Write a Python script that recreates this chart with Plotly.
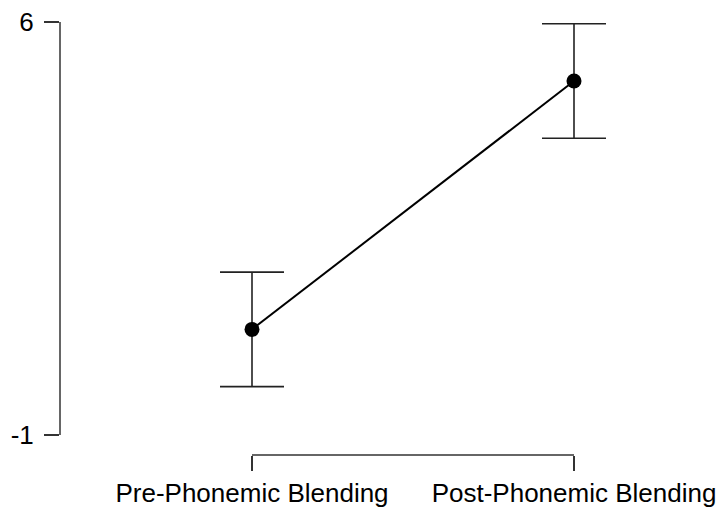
import plotly.graph_objects as go

categories = ["Pre-Phonemic Blending", "Post-Phonemic Blending"]
means = [0.79, 5.0]
errors = [0.97, 0.97]
y_ticks = [-1, 6]
y_ticklabels = ["-1", "6"]

W, H = 721, 509
L, T = 60, 22
plot_right, plot_bottom = 716, 455
R, B = W - plot_right, H - plot_bottom
pw = W - L - R
x0_px, x1_px = 252, 574
y_top_px, y_bot_px = 22, 435
ppu_x = (x1_px - x0_px) / 1.0
ppu_y = (y_bot_px - y_top_px) / (y_ticks[1] - y_ticks[0])

xr = [-(x0_px - L) / ppu_x, (L + pw - x0_px) / ppu_x]
yr = [y_ticks[0] - (plot_bottom - y_bot_px) / ppu_y, y_ticks[1] + 1e-6]

xpos = list(range(len(categories)))

fig = go.Figure()
fig.add_trace(go.Scatter(
    x=xpos, y=means, mode="lines+markers",
    line=dict(color="black", width=2),
    marker=dict(color="black", size=15),
    error_y=dict(type="data", array=errors, visible=True, color="#222222",
                 thickness=1.6, width=32),
    showlegend=False, cliponaxis=False,
))

axcol = "#333333"
font = dict(family="Liberation Sans, Arial", size=26, color="black")
fig.update_layout(
    width=W, height=H,
    margin=dict(l=L, r=R, t=T, b=B, pad=0),
    paper_bgcolor="white", plot_bgcolor="white",
    font=font,
    xaxis=dict(range=xr, showline=False, ticks="outside", ticklen=15,
               tickwidth=1.5, tickcolor=axcol, tickvals=xpos,
               ticktext=categories, showgrid=False, zeroline=False,
               tickfont=font, automargin=False, fixedrange=True,
               ticklabeloverflow="allow"),
    yaxis=dict(range=yr, showline=False, ticks="outside", ticklen=15,
               tickwidth=1.5, tickcolor=axcol, tickvals=y_ticks,
               ticktext=y_ticklabels, showgrid=False, zeroline=False,
               tickfont=font, automargin=False, fixedrange=True,
               ticklabelstandoff=5, ticklabeloverflow="allow"),
    shapes=[
        dict(type="line", xref="x", yref="paper", x0=xpos[0], x1=xpos[-1],
             y0=0, y1=0, line=dict(color=axcol, width=1.5)),
        dict(type="line", xref="paper", yref="y", x0=0, x1=0,
             y0=y_ticks[0], y1=y_ticks[-1], line=dict(color=axcol, width=1.5)),
    ],
)
fig.write_html("out.html", config={"displayModeBar": False},
               post_script="document.body.style.margin='0px';"
                           "document.body.style.overflow='hidden';")
